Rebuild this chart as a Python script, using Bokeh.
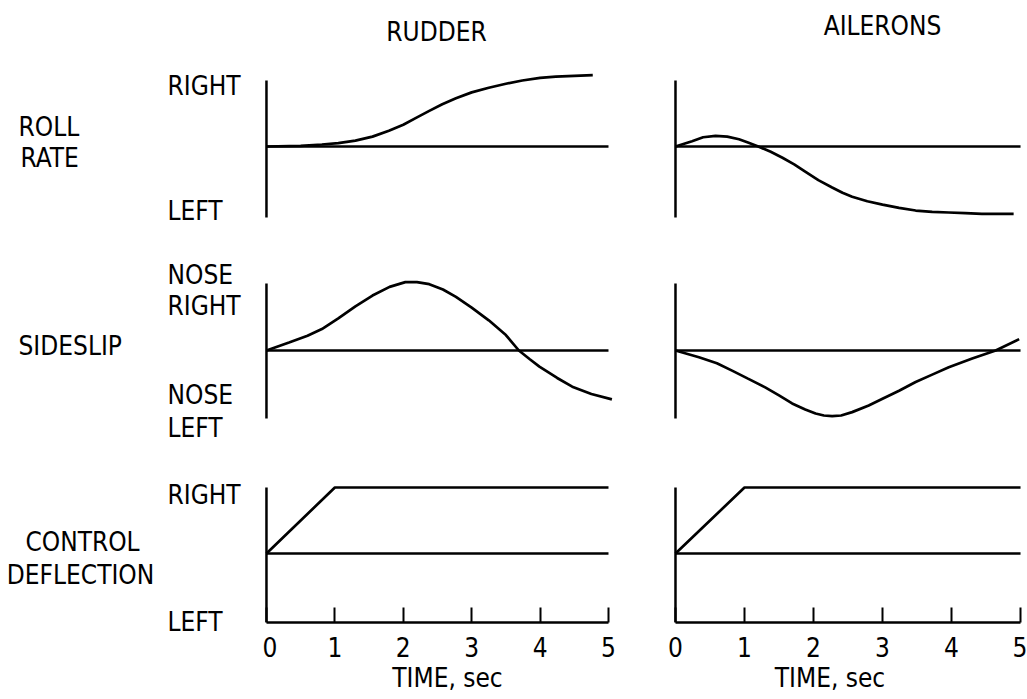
from bokeh.plotting import figure
from bokeh.models import LinearAxis, FixedTicker, Label
from bokeh.layouts import gridplot
from bokeh.embed import file_html
from bokeh.resources import INLINE

# ---------------- data (time in s, response in relative units; RIGHT level = 1) ----------------
column_titles = ["RUDDER", "AILERONS"]
row_titles = [["ROLL", "RATE"], ["SIDESLIP"], ["CONTROL", "DEFLECTION"]]
level_labels = [["RIGHT", "LEFT"], ["NOSE", "RIGHT", "NOSE", "LEFT"], ["RIGHT", "LEFT"]]
time_ticks = [0, 1, 2, 3, 4, 5]
time_label = "TIME, sec"

baseline_t = [0, 5]
baseline_v = [0, 0]

axis_t = [0, 0]
axis_extent = [[-1.076, 1.0], [-1.015, 1.0], [-1.045, 1.0]]

t_roll_rudder = [0, 0.5, 0.81, 1.05, 1.3, 1.55, 1.79, 2.0, 2.18, 2.38, 2.57, 2.77, 3.0, 3.25,
                 3.5, 3.74, 4.0, 4.23, 4.5, 4.77]
v_roll_rudder = [0, 0.01, 0.03, 0.05, 0.09, 0.15, 0.24, 0.33, 0.43, 0.54, 0.64, 0.73, 0.82, 0.89,
                 0.95, 1.0, 1.04, 1.06, 1.07, 1.08]

t_roll_ail = [0, 0.24, 0.4, 0.58, 0.75, 0.92, 1.05, 1.2, 1.38, 1.55, 1.72, 1.88, 2.07, 2.27,
              2.42, 2.56, 2.78, 3.0, 3.24, 3.48, 3.72, 3.96, 4.2, 4.44, 4.9]
v_roll_ail = [0, 0.08, 0.14, 0.16, 0.15, 0.11, 0.06, 0.0, -0.08, -0.17, -0.27, -0.38, -0.51, -0.62,
              -0.70, -0.76, -0.83, -0.88, -0.93, -0.97, -0.99, -1.0, -1.01, -1.02, -1.02]

t_slip_rudder = [0, 0.33, 0.6, 0.81, 1.05, 1.3, 1.55, 1.8, 2.03, 2.2, 2.38, 2.58, 2.77, 3.0,
                 3.25, 3.5, 3.69, 3.85, 3.99, 4.25, 4.47, 4.75, 5.05]
v_slip_rudder = [0, 0.12, 0.22, 0.32, 0.48, 0.66, 0.82, 0.95, 1.02, 1.02, 0.99, 0.91, 0.80, 0.64,
                 0.45, 0.23, 0.0, -0.13, -0.24, -0.41, -0.54, -0.65, -0.73]

t_slip_ail = [0, 0.34, 0.6, 0.82, 1.05, 1.3, 1.5, 1.69, 1.88, 2.03, 2.15, 2.27, 2.4, 2.56,
              2.8, 3.0, 3.24, 3.48, 3.72, 3.96, 4.3, 4.64, 4.98]
v_slip_ail = [0, -0.10, -0.19, -0.30, -0.42, -0.55, -0.67, -0.79, -0.88, -0.94, -0.97, -0.98, -0.97,
              -0.92, -0.82, -0.72, -0.60, -0.47, -0.36, -0.25, -0.12, 0.0, 0.17]

t_defl = [0, 1, 5]
v_defl = [0, 1, 1]

# ---------------- styling / layout ----------------
FONT = "DejaVu Sans Condensed"
FS = "26px"
CURVE_W = 2.7
BASE_W = 2.3
AXIS_W = 2.5

# label column uses pixel offsets from the panel axis as its x coordinate
LABEL_COL = dict(x=(-266, -4), fw=262)
COLS = [
    dict(x=(-0.058, 5.351), fw=370),
    dict(x=(-0.623, 5.101), fw=395),
]
ROWS = [
    dict(y=(-1.424, 2.212), fh=240, bb=0, label_y=(-1.424, 2.212), label_h=240),
    dict(y=(-1.463, 1.642), fh=208, bb=0, label_y=(-1.463, 1.642), label_h=208),
    dict(y=(-1.045, 1.591), fh=174, bb=77, label_y=(-2.212, 1.591), label_h=251),
]


def base_fig(fw, fh, xr, yr, bb):
    p = figure(frame_width=fw, frame_height=fh, x_range=xr, y_range=yr,
               min_border_left=0, min_border_right=0, min_border_top=0, min_border_bottom=bb,
               x_axis_location=None, y_axis_location=None,
               toolbar_location=None, output_backend="svg",
               background_fill_color="white", border_fill_color="white")
    p.outline_line_color = None
    p.grid.visible = False
    return p


def label(p, text, x, y, align="left", x_offset=0):
    p.add_layout(Label(x=x, y=y, x_offset=x_offset, text=text, text_font=FONT,
                       text_font_size=FS, text_color="black", text_align=align,
                       text_baseline="middle"))


def make_panel(r, c):
    R, C = ROWS[r], COLS[c]
    p = base_fig(C["fw"], R["fh"], C["x"], R["y"], R["bb"])
    if r == 2:
        xax = LinearAxis(bounds=(0, 5), ticker=FixedTicker(ticks=time_ticks),
                         axis_line_width=AXIS_W, axis_line_color="black",
                         major_tick_in=15, major_tick_out=0,
                         major_tick_line_width=2, major_tick_line_color="black",
                         minor_tick_line_color=None,
                         major_label_text_font=FONT, major_label_text_font_size=FS,
                         major_label_text_color="black", major_label_standoff=14,
                         axis_label=time_label, axis_label_text_font=FONT,
                         axis_label_text_font_size=FS, axis_label_text_font_style="normal",
                         axis_label_text_color="black", axis_label_standoff=3)
        p.add_layout(xax, "below")
    # panel's vertical axis line at t = 0
    p.line(axis_t, axis_extent[r], line_width=AXIS_W, line_color="black")
    # zero reference line
    p.line(baseline_t, baseline_v, line_width=BASE_W, line_color="black")
    return p


def make_label_fig(r):
    R = ROWS[r]
    return base_fig(LABEL_COL["fw"], R["label_h"], LABEL_COL["x"], R["label_y"], 0)


panels = [[make_panel(r, c) for c in range(2)] for r in range(3)]
labels = [make_label_fig(r) for r in range(3)]

# curves
panels[0][0].line(t_roll_rudder, v_roll_rudder, line_width=CURVE_W, line_color="black")
panels[0][1].line(t_roll_ail, v_roll_ail, line_width=CURVE_W, line_color="black")
panels[1][0].line(t_slip_rudder, v_slip_rudder, line_width=CURVE_W, line_color="black")
panels[1][1].line(t_slip_ail, v_slip_ail, line_width=CURVE_W, line_color="black")
panels[2][0].line(t_defl, v_defl, line_width=CURVE_W, line_color="black")
panels[2][1].line(t_defl, v_defl, line_width=CURVE_W, line_color="black")

# column headings (x = 0 is the panel axis; offset in pixels)
label(panels[0][0], column_titles[0], 0, 1.74, align="center", x_offset=170)
label(panels[0][1], column_titles[1], 0, 1.83, align="center", x_offset=207)

# row 1 labels
p = labels[0]
label(p, level_labels[0][0], -99, 0.92)
label(p, level_labels[0][1], -99, -0.97)
label(p, row_titles[0][0], -248, 0.30)
label(p, row_titles[0][1], -246, -0.18)

# row 2 labels
p = labels[1]
label(p, level_labels[1][0], -99, 1.13)
label(p, level_labels[1][1], -99, 0.67)
label(p, row_titles[1][0], -248, 0.06)
label(p, level_labels[1][2], -99, -0.67)
label(p, level_labels[1][3], -99, -1.15)

# row 3 labels
p = labels[2]
label(p, level_labels[2][0], -99, 0.89)
label(p, row_titles[2][0], -184, 0.17, align="center")
label(p, row_titles[2][1], -186, -0.32, align="center")
label(p, level_labels[2][1], -99, -1.045)

grid = gridplot([[labels[r], panels[r][0], panels[r][1]] for r in range(3)],
                toolbar_location=None)

open("out.html", "w").write(file_html(grid, INLINE))
